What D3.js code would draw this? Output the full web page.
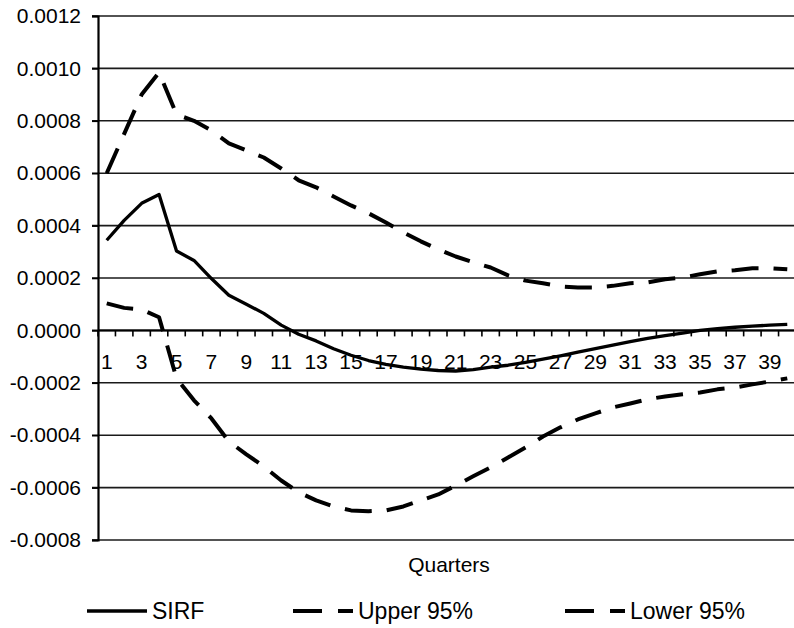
<!DOCTYPE html>
<html>
<head>
<meta charset="utf-8">
<script src="https://cdn.jsdelivr.net/npm/d3@7"></script>
<style>
  body { margin: 0; background: #fff; }
  text { font-family: "Liberation Sans", Arial, sans-serif; fill: #000; }
</style>
</head>
<body>
<svg width="794" height="628"></svg>
<script>
const quarters = d3.range(1, 41);
const quarterLabels = quarters.filter((q) => q % 2 === 1);
const yTicks = [-0.0008, -0.0006, -0.0004, -0.0002, 0, 0.0002, 0.0004, 0.0006, 0.0008, 0.001, 0.0012];

const sirf = [
  0.000344, 0.00042, 0.000485, 0.000519, 0.000303, 0.000267, 0.000198, 0.000134, 0.0001, 0.000065,
  0.00002, -0.000015, -0.00004, -0.00007, -0.000095, -0.000115, -0.00013, -0.00014, -0.000148, -0.000153,
  -0.000155, -0.00015, -0.00014, -0.000133, -0.000122, -0.00011, -0.000097, -0.000083, -0.00007, -0.000056,
  -0.000043, -0.00003, -0.00002, -0.00001, 0.0, 0.000007, 0.000012, 0.000016, 0.00002, 0.000023,
];
const upper95 = [
  0.0006, 0.00075, 0.0009, 0.000985, 0.000824, 0.0008, 0.000763, 0.000714, 0.000687, 0.00066,
  0.000618, 0.000573, 0.000546, 0.000511, 0.000477, 0.000447, 0.000412, 0.000374, 0.00034, 0.000309,
  0.000282, 0.00026, 0.00024, 0.00021, 0.00019, 0.00018, 0.000168, 0.000164, 0.000164, 0.00017,
  0.00018, 0.000183, 0.000195, 0.000202, 0.000214, 0.000225, 0.00023, 0.000237, 0.000237, 0.000233,
];
const lower95 = [
  0.000103, 0.000086, 0.00008, 0.00005, -0.000183, -0.000267, -0.000336, -0.000424, -0.000473, -0.000519,
  -0.000573, -0.000618, -0.000649, -0.000672, -0.000687, -0.00069, -0.000687, -0.000672, -0.000649, -0.000626,
  -0.000592, -0.000557, -0.000523, -0.000485, -0.000447, -0.000405, -0.00037, -0.00034, -0.000317, -0.000294,
  -0.000279, -0.000263, -0.000252, -0.000244, -0.000237, -0.000225, -0.000218, -0.000206, -0.000195, -0.000183,
];

const series = [
  { name: "SIRF", values: sirf, dash: null, width: 3.3 },
  { name: "Upper 95%", values: upper95, dash: "27,15", width: 4 },
  { name: "Lower 95%", values: lower95, dash: "27,15", width: 4 },
];

const svg = d3.select("svg");
const fontSize = 21;
const legendFontSize = 23;

const margin = { top: 16, left: 98 };
const plotRight = 796;
const plotBottom = 540;

// scales
const x = d3.scaleBand().domain(quarters).range([margin.left, plotRight]);
const y = d3.scaleLinear().domain([-0.0008, 0.0012]).range([plotBottom, margin.top]);
const cx = (q) => x(q) + x.bandwidth() / 2;

// gridlines
svg.append("g")
  .selectAll("line")
  .data(yTicks)
  .join("line")
  .attr("x1", margin.left - 6)
  .attr("x2", plotRight)
  .attr("y1", (d) => y(d))
  .attr("y2", (d) => y(d))
  .attr("stroke", "#1a1a1a")
  .attr("stroke-width", 1.6);

// y axis
const yAxisG = svg.append("g")
  .attr("transform", `translate(${margin.left},0)`)
  .call(d3.axisLeft(y).tickValues(yTicks).tickSize(6).tickFormat((d) => d.toFixed(4)));
yAxisG.select(".domain").attr("stroke", "#000").attr("stroke-width", 2.2);
yAxisG.selectAll(".tick line").attr("stroke", "#000").attr("stroke-width", 1.6);
yAxisG.selectAll(".tick text")
  .attr("x", -17)
  .style("font-size", fontSize + "px")
  .style("font-family", "Liberation Sans, Arial, sans-serif")
  .attr("fill", "#000");

// x axis on the zero line
const zeroY = y(0);
const xTicks = quarters.map((q) => x(q)).concat([plotRight]);
svg.append("g")
  .selectAll("line")
  .data(xTicks)
  .join("line")
  .attr("x1", (d) => d)
  .attr("x2", (d) => d)
  .attr("y1", zeroY)
  .attr("y2", zeroY + 6)
  .attr("stroke", "#000")
  .attr("stroke-width", 1.6);
svg.append("line")
  .attr("x1", margin.left)
  .attr("x2", plotRight)
  .attr("y1", zeroY)
  .attr("y2", zeroY)
  .attr("stroke", "#000")
  .attr("stroke-width", 2);

svg.append("g")
  .selectAll("text")
  .data(quarterLabels)
  .join("text")
  .attr("x", (d) => cx(d))
  .attr("y", zeroY + 39)
  .attr("text-anchor", "middle")
  .style("font-size", fontSize + "px")
  .text((d) => d);

// x axis title
svg.append("text")
  .attr("x", 449)
  .attr("y", 572)
  .attr("text-anchor", "middle")
  .style("font-size", fontSize + "px")
  .text("Quarters");

// lines
const line = (vals) =>
  d3.line()
    .x((d, i) => cx(quarters[i]))
    .y((d) => y(d))(vals);

svg.append("g")
  .selectAll("path")
  .data(series)
  .join("path")
  .attr("d", (s) => line(s.values))
  .attr("fill", "none")
  .attr("stroke", "#000")
  .attr("stroke-width", (s) => s.width)
  .attr("stroke-dasharray", (s) => s.dash)
  .attr("stroke-linejoin", "round");

// legend
const legendX = [87, 293, 565];
const legendY = 611;
const legend = svg.append("g")
  .selectAll("g")
  .data(series)
  .join("g")
  .attr("transform", (s, i) => `translate(${legendX[i]},${legendY})`);
legend.append("line")
  .attr("x1", 0)
  .attr("x2", 60)
  .attr("stroke", "#000")
  .attr("stroke-width", (s) => s.width)
  .attr("stroke-dasharray", (s) => (s.dash ? "29,16" : null));
legend.append("text")
  .attr("x", 65)
  .attr("y", 8)
  .style("font-size", legendFontSize + "px")
  .text((s) => s.name);
</script>
</body>
</html>
